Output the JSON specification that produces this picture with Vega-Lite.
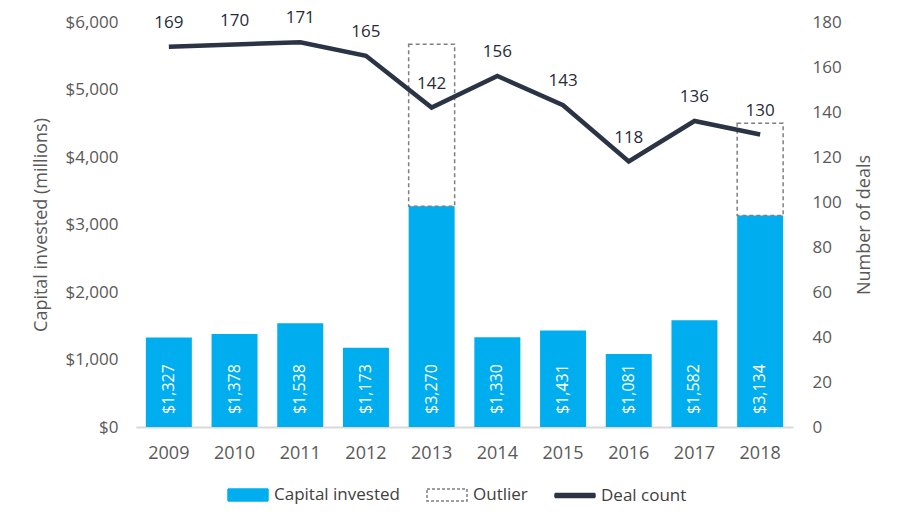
{
  "$schema": "https://vega.github.io/schema/vega-lite/v6.json",
  "width": 657,
  "height": 405,
  "autosize": {"type": "none"},
  "padding": {"left": 136, "top": 22, "right": 107, "bottom": 98},
  "background": "white",
  "config": {
    "view": {"stroke": null},
    "font": "Open Sans",
    "axis": {"labelFont": "Open Sans", "titleFont": "Open Sans", "labelColor": "#595959", "titleColor": "#595959", "titleFontWeight": "normal", "labelFontSize": 17, "titleFontSize": 18, "grid": false, "ticks": false},
    "legend": {
      "orient": "none", "legendX": 91, "legendY": 452, "direction": "horizontal", "title": null,
      "labelFont": "Open Sans", "labelFontSize": 17, "labelColor": "#404040",
      "symbolSize": 1600, "columnPadding": 24, "labelOffset": 5
    }
  },
  "datasets": {
    "main": [
      {"year": "2009", "capital": 1327, "deals": 169},
      {"year": "2010", "capital": 1378, "deals": 170},
      {"year": "2011", "capital": 1538, "deals": 171},
      {"year": "2012", "capital": 1173, "deals": 165},
      {"year": "2013", "capital": 3270, "deals": 142},
      {"year": "2014", "capital": 1330, "deals": 156},
      {"year": "2015", "capital": 1431, "deals": 143},
      {"year": "2016", "capital": 1081, "deals": 118},
      {"year": "2017", "capital": 1582, "deals": 136},
      {"year": "2018", "capital": 3134, "deals": 130}
    ],
    "outliers": [
      {"year": "2013", "capital": 3270, "top": 5670},
      {"year": "2018", "capital": 3134, "top": 4500}
    ]
  },
  "encoding": {
    "x": {
      "field": "year", "type": "ordinal",
      "scale": {"paddingInner": 0, "paddingOuter": 0},
      "axis": {"title": null, "labelAngle": 0, "domainColor": "#d9d9d9", "domainWidth": 2, "labelPadding": 17, "labelFontSize": 18}
    }
  },
  "layer": [
    {
      "layer": [
        {
          "data": {"name": "main"},
          "mark": {"type": "bar", "width": {"band": 0.7}},
          "encoding": {
            "y": {
              "field": "capital", "type": "quantitative",
              "scale": {"domain": [0, 6000], "nice": false},
              "axis": {"title": "Capital invested (millions)", "values": [0, 1000, 2000, 3000, 4000, 5000, 6000], "format": "$,.0f", "domain": false, "labelPadding": 18, "titlePadding": 14}
            },
            "color": {
              "datum": "Capital invested",
              "scale": {"domain": ["Capital invested", "Outlier", "Deal count"], "range": ["#00AEEF", "#7f7f7f", "#2B3445"]},
              "legend": {
                "encode": {
                  "symbols": {
                    "update": {
                      "shape": {"signal": "datum.value === 'Deal count' ? 'M-1,-0.1H1V0.1H-1Z' : 'M-1,-0.3H1V0.3H-1Z'"},
                      "fillOpacity": {"signal": "datum.value === 'Outlier' ? 0 : 1"},
                      "strokeDash": {"signal": "datum.value === 'Outlier' ? [3, 2] : [1, 0]"},
                      "strokeWidth": {"value": 1.5},
                      "opacity": {"value": 1}
                    }
                  }
                }
              }
            }
          }
        },
        {
          "data": {"name": "outliers"},
          "mark": {"type": "bar", "width": {"band": 0.7}, "fill": "transparent", "stroke": "#7f7f7f", "strokeDash": [4, 3], "strokeWidth": 1.5},
          "encoding": {
            "y": {"field": "top", "type": "quantitative"},
            "y2": {"field": "capital"}
          }
        },
        {
          "data": {"name": "main"},
          "mark": {"type": "text", "angle": -90, "align": "left", "baseline": "middle", "dx": 13, "color": "white", "fontSize": 16, "font": "Open Sans"},
          "encoding": {
            "y": {"datum": 0, "type": "quantitative"},
            "text": {"field": "capital", "type": "quantitative", "format": "$,.0f"}
          }
        }
      ]
    },
    {
      "layer": [
        {
          "data": {"name": "main"},
          "mark": {"type": "line", "strokeWidth": 4.5, "strokeCap": "butt"},
          "encoding": {
            "y": {
              "field": "deals", "type": "quantitative",
              "scale": {"domain": [0, 180], "nice": false},
              "axis": {"orient": "right", "title": "Number of deals", "titleAngle": 270, "values": [0, 20, 40, 60, 80, 100, 120, 140, 160, 180], "domain": false, "labelPadding": 19, "titlePadding": 32}
            },
            "color": {
              "datum": "Deal count",
              "legend": {
                "encode": {
                  "symbols": {
                    "update": {
                      "shape": {"signal": "datum.value === 'Deal count' ? 'M-1,-0.1H1V0.1H-1Z' : 'M-1,-0.3H1V0.3H-1Z'"},
                      "fillOpacity": {"signal": "datum.value === 'Outlier' ? 0 : 1"},
                      "strokeDash": {"signal": "datum.value === 'Outlier' ? [3, 2] : [1, 0]"},
                      "strokeWidth": {"value": 1.5},
                      "opacity": {"value": 1}
                    }
                  }
                }
              }
            }
          }
        },
        {
          "data": {"name": "main"},
          "mark": {"type": "text", "dy": -24, "baseline": "middle", "align": "center", "color": "#262C38", "fontSize": 17, "font": "Open Sans"},
          "encoding": {
            "y": {"field": "deals", "type": "quantitative"},
            "text": {"field": "deals", "type": "quantitative"}
          }
        }
      ]
    }
  ],
  "resolve": {"scale": {"y": "independent"}}
}
